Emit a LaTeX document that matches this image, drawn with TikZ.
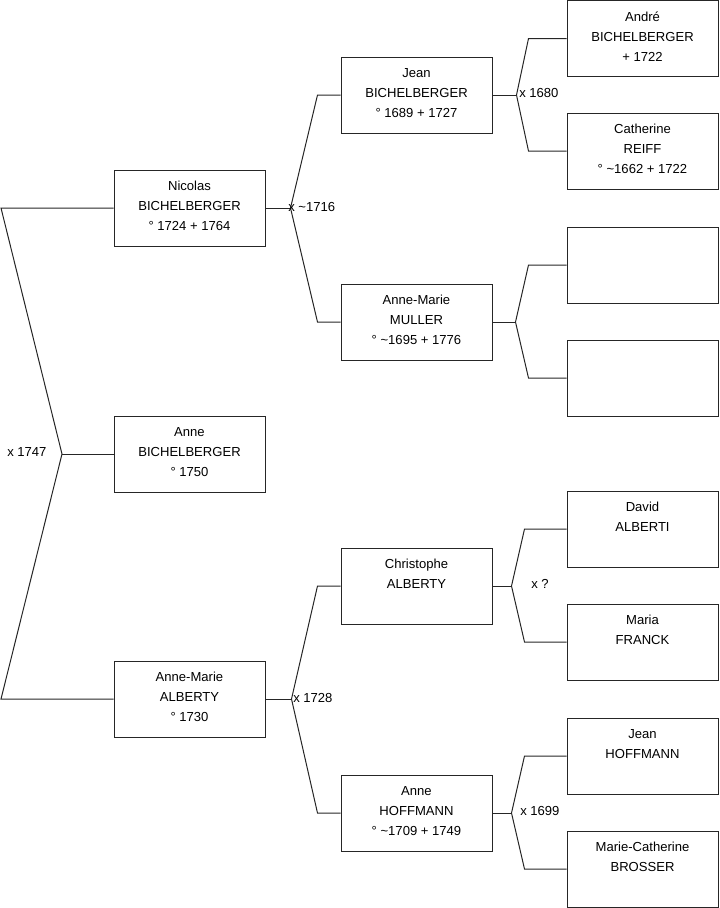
\documentclass[tikz,border=0pt]{standalone}
\usepackage{fontspec}
\setmainfont{Liberation Sans}
\usetikzlibrary{positioning,calc}

\tikzset{
  person/.style={draw=black!85,line width=0.75pt,minimum width=113.25pt,
    minimum height=57pt,align=center,inner sep=2pt,
    font=\fontsize{9.8}{15}\selectfont,
    execute at end node={\rule[-3pt]{0pt}{3pt}}},
  link/.style={draw=black!85,line width=0.75pt},
  wed/.style={anchor=west,inner sep=0pt,font=\fontsize{9.8}{11}\selectfont}
}

\begin{document}
\begin{tikzpicture}[x=0.75pt,y=-0.75pt]
        \useasboundingbox (0,0) rectangle (719,908);
        % ---- 1re generation ----
        \node[person] (nicolas) at (189.5,208) {Nicolas\\BICHELBERGER\\° 1724 + 1764};
        \node[person] (anne) at (189.5,454) {Anne\\BICHELBERGER\\° 1750};
        \node[person] (alberty) at (189.5,699) {Anne-Marie\\ALBERTY\\° 1730};
        % ---- 2e generation ----
        \node[person] (jean) at (416.5,95) {Jean\\BICHELBERGER\\° 1689 + 1727};
        \node[person] (muller) at (416.5,322) {Anne-Marie\\MULLER\\° \textasciitilde 1695 + 1776};
        \node[person] (christophe) at (416.5,586) {Christophe\\ALBERTY\\\mbox{}};
        \node[person] (hoffmann) at (416.5,813) {Anne\\HOFFMANN\\° \textasciitilde 1709 + 1749};
        % ---- 3e generation ----
        \node[person] (andre) at (642.5,38.5) {André\\BICHELBERGER\\+ 1722};
        \node[person] (reiff) at (642.5,151) {Catherine\\REIFF\\° \textasciitilde 1662 + 1722};
        \node[person] (inconnu1) at (642.5,265) {};
        \node[person] (inconnu2) at (642.5,378) {};
        \node[person] (alberti) at (642.5,529) {David\\ALBERTI\\\mbox{}};
        \node[person] (franck) at (642.5,642) {Maria\\FRANCK\\\mbox{}};
        \node[person] (jhoffmann) at (642.5,756) {Jean\\HOFFMANN\\\mbox{}};
        \node[person] (brosser) at (642.5,869) {Marie-Catherine\\BROSSER\\\mbox{}};
        % ---- fourche de la racine ----
        \coordinate (v-racine) at (62,454);
        \coordinate (racine-haut) at (1,208);
        \coordinate (racine-bas) at (1,699);
        \draw[link] (nicolas.west) -- (racine-haut) -- (v-racine)
            -- (racine-bas) -- (alberty.west);
        \draw[link] (v-racine) -- (anne.west);
        % ---- fourches parent -> pere / mere ----
        \foreach \p/\a/\b/\dv/\db in {nicolas/jean/muller/25/23,
            alberty/christophe/hoffmann/26/23, jean/andre/reiff/24/38,
            muller/inconnu1/inconnu2/23/38, christophe/alberti/franck/19/42,
            hoffmann/jhoffmann/brosser/19/42} {
          \coordinate (v-\p) at ($(\p.east)+(\dv,0)$);
          \draw[link] (\p.east) -- (v-\p);
          \draw[link] (\a.west) -- ++(-\db,0) -- (v-\p)
              -- ($(\b.west)+(-\db,0)$) -- (\b.west);
        }
        % ---- mariages ----
        \node[wed] (m1747) at (7,451.5) {x 1747};
        \node[wed] (m1716) at (288,207) {x \textasciitilde 1716};
        \node[wed] (m1680) at (519,93) {x 1680};
        \node[wed] (m1728) at (293,698) {x 1728};
        \node[wed] (minconnu) at (531,584) {x ?};
        \node[wed] (m1699) at (520,810.5) {x 1699};
      \end{tikzpicture}
\end{document}
